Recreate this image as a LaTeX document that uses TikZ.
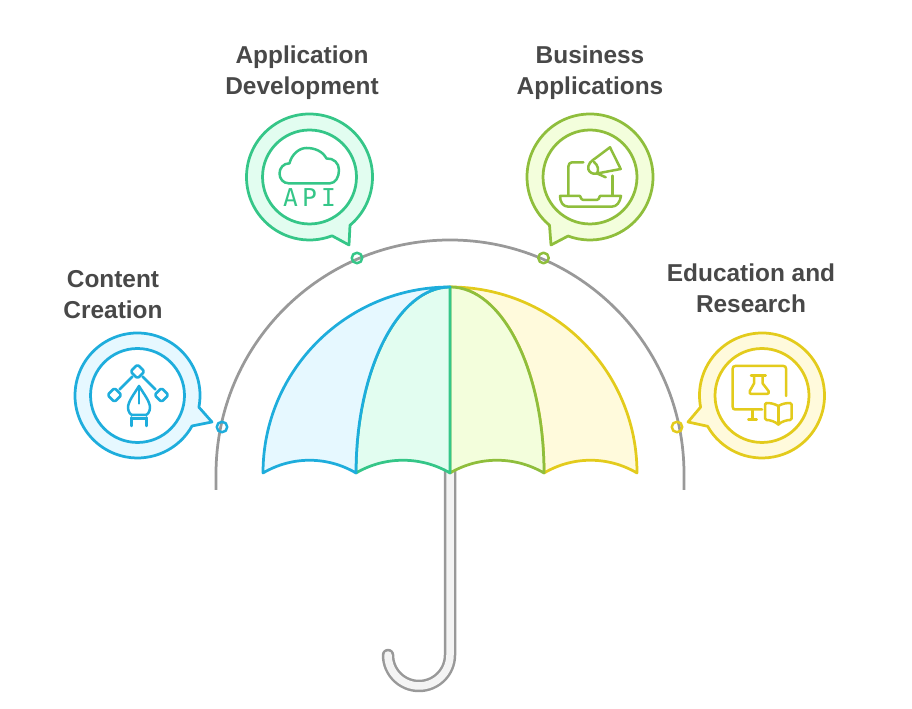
\documentclass[tikz,border=0pt]{standalone}
\usepackage{fontspec}
\setmainfont{Liberation Sans}
\newfontfamily\apifont[LetterSpace=17]{DejaVu Sans Mono}
\usetikzlibrary{positioning}

\definecolor{blueline}{HTML}{1EADDC}
\definecolor{bluefill}{HTML}{E6F8FF}
\definecolor{greenline}{HTML}{35C688}
\definecolor{greenfill}{HTML}{E2FDF0}
\definecolor{limeline}{HTML}{8FBE3C}
\definecolor{limefill}{HTML}{F3FEDC}
\definecolor{yellowline}{HTML}{E3CB1C}
\definecolor{yellowfill}{HTML}{FFFADC}
\definecolor{greyline}{HTML}{999999}
\definecolor{greyfill}{HTML}{F4F4F4}
\definecolor{labeltext}{HTML}{484848}

\begin{document}
\begin{tikzpicture}[
	x = 0.02cm, y = 0.02cm, % one unit is one pixel of the layout
	line join = round,
	panel/.style={line width=0.055cm},
	bubble/.style={line width=0.055cm},
	inner/.style={circle, draw, fill=white, line width=0.055cm, inner sep=0pt, minimum size=1.88cm},
	icon/.style={line width=0.05cm, line cap=round},
	dot/.style={circle, draw, line width=0.05cm, inner sep=0pt, minimum size=0.21cm},
	heading/.style={align=center, text=labeltext, inner sep=0pt, font=\fontsize{13.9}{17.6}\selectfont\bfseries},
	]
	\useasboundingbox (0,0) rectangle (912,709);

	% Handle
	\draw[greyline, line cap=round, line width=0.05cm, double=greyfill, double distance=0.15cm]
		(450,240) -- (450,54) arc[start angle=0, end angle=-180, radius=31];

	% Panels of the canopy, right to left
	\coordinate (apex) at (450,422);
	\draw[panel, draw=yellowline, fill=yellowfill] (apex) .. controls (553,422) and (637,339) .. (637,236)
		.. controls (608,253) and (573,253) .. (544,236) .. controls (544,339) and (502,422) .. cycle;
	\draw[panel, draw=limeline, fill=limefill] (apex) .. controls (502,422) and (544,339) .. (544,236)
		.. controls (515,253) and (479,253) .. (450,236) -- cycle;
	\draw[panel, draw=greenline, fill=greenfill] (apex) -- (450,236)
		.. controls (421,253) and (385,253) .. (356,236) .. controls (356,339) and (398,422) .. cycle;
	\draw[panel, draw=blueline, fill=bluefill] (apex) .. controls (398,422) and (356,339) .. (356,236)
		.. controls (327,253) and (292,253) .. (263,236) .. controls (263,339) and (347,422) .. cycle;

	% Grey arc over the canopy
	\draw[greyline, line width=0.055cm] (216,219) -- (216,235) arc[start angle=180, end angle=0, radius=234] -- (684,219);

	% Bubbles
	\coordinate (creationC) at (137.5,313.5);
	\coordinate (developC) at (309.5,532);
	\coordinate (businessC) at (590,532);
	\coordinate (educationC) at (762,313.5);

	\draw[bubble, draw=blueline, fill=bluefill] ([shift={(-10.8:62.5)}]creationC)
		arc[start angle=-10.8, end angle=330.8, radius=62.5] -- (212,287) -- cycle;
	\draw[bubble, draw=greenline, fill=greenfill] ([shift={(-50:63)}]developC)
		arc[start angle=-50, end angle=291, radius=63] -- (349,464) -- cycle;
	\draw[bubble, draw=limeline, fill=limefill] ([shift={(230:63)}]businessC)
		arc[start angle=230, end angle=-110.4, radius=63] -- (551,464) -- cycle;
	\draw[bubble, draw=yellowline, fill=yellowfill] ([shift={(190.7:62.5)}]educationC)
		arc[start angle=190.7, end angle=-150.5, radius=62.5] -- (688,287) -- cycle;

	% Nodes and their relative positions
	\node[inner, draw=blueline] (creation) at (creationC) {};
	\node[inner, draw=greenline] (develop) at (developC) {};
	\node[inner, draw=limeline] (business) at (businessC) {};
	\node[inner, draw=yellowline] (education) at (educationC) {};

	\node[heading] (creationL) [above = 0.56cm of creation, xshift=-0.49cm] {Content\\Creation};
	\node[heading] (developL) [above = 0.58cm of develop, xshift=-0.15cm] {Application\\Development};
	\node[heading] (businessL) [above = 0.58cm of business] {Business\\Applications};
	\node[heading] (educationL) [above = 0.68cm of education, xshift=-0.22cm] {Education and\\Research};

	% Small rings on the arc
	\node[dot, draw=blueline] (creationD) at (222,282) {};
	\node[dot, draw=greenline] (developD) at (357,451) {};
	\node[dot, draw=limeline] (businessD) at (543.5,451) {};
	\node[dot, draw=yellowline] (educationD) at (677,282) {};

	% Pen tool icon
	\begin{scope}[shift={(creation.center)}, icon, blueline]
		\draw[rounded corners=1pt] (0,31) -- (7,24) -- (0,17) -- (-7,24) -- cycle;
		\draw[rounded corners=1pt] (-23,7.5) -- (-16,0.5) -- (-23,-6.5) -- (-30,0.5) -- cycle;
		\draw[rounded corners=1pt] (24,7.5) -- (31,0.5) -- (24,-6.5) -- (17,0.5) -- cycle;
		\draw (-5,19) -- (-18,6) (5,19) -- (18,6);
		\draw (1.5,9.5) .. controls (-3,2) and (-9.5,-6) .. (-9.5,-12) .. controls (-9.5,-16) and (-7,-19.5) .. (-5,-19.5)
			-- (8,-19.5) .. controls (10,-19.5) and (12.5,-16) .. (12.5,-12) .. controls (12.5,-6) and (6,2) .. cycle;
		\draw (1.5,9.5) -- (1.5,-8);
		\draw (-6,-22) -- (-6,-30.5) (9,-22) -- (9,-30.5) (-6,-23) -- (9,-23);
	\end{scope}

	% Cloud icon
	\begin{scope}[shift={(develop.center)}, icon, greenline]
		\draw (-21,-6.3) -- (20.5,-6.3) .. controls (26,-6.3) and (29.5,0) .. (29.5,7)
			.. controls (29.5,14) and (24,19) .. (17,18.5) .. controls (13,26) and (5,29) .. (-3,29)
			.. controls (-11,29) and (-18,22) .. (-20,13.7) .. controls (-26,13.7) and (-30,9) .. (-30,3.5)
			.. controls (-30,-2) and (-26,-6.3) .. cycle;
		\node[text=greenline, inner sep=0pt, font=\apifont\fontsize{14}{14}\selectfont] (apiL) at (0,-21) {API};
	\end{scope}

	% Laptop and megaphone icon
	\begin{scope}[shift={(business.center)}, icon, limeline]
		\draw (-21.7,-18) -- (-21.7,10.3) .. controls (-21.7,13) and (-20,14.7) .. (-18,14.7) -- (-6.7,14.7);
		\draw (22.7,1.3) -- (22.7,-18);
		\draw (-30,-19) -- (-10,-19) .. controls (-9,-22) and (-8,-23) .. (-6.7,-23) -- (6.7,-23)
			.. controls (8,-23) and (9,-22) .. (10,-19) -- (31,-19) .. controls (30,-25) and (27,-29.7) .. (21.7,-29.7)
			-- (-21.7,-29.7) .. controls (-27,-29.7) and (-30,-25) .. cycle;
		\draw (20,29.7) -- (3,17) .. controls (-2,14) and (-3,8) .. (-0.5,5.5) .. controls (2,3) and (5,3) .. (7,3.5) -- (30.7,8) -- cycle;
		\draw (4,15) .. controls (8,12) and (9,7) .. (7,3.5);
		\draw (6.7,3.7) -- (15.7,-0.3);
	\end{scope}

	% Screen, flask and book icon
	\begin{scope}[shift={(education.center)}, icon, yellowline]
		\draw (24,-0.5) -- (24,27) .. controls (24,28.5) and (23,29.5) .. (21.5,29.5) -- (-26.8,29.5)
			.. controls (-28.3,29.5) and (-29.3,28.5) .. (-29.3,27) -- (-29.3,-11.5)
			.. controls (-29.3,-13) and (-28.3,-14) .. (-26.8,-14) -- (0,-14);
		\draw (-9.3,-14) -- (-9.3,-24) (-13.7,-24) -- (-5.3,-24);
		\draw (-11,19.8) -- (3.7,19.8);
		\draw (-8,19.8) -- (-8,12) -- (-12.2,4.5) .. controls (-13,2.5) and (-12,1.5) .. (-10.5,1.5) -- (4.7,1.5)
			.. controls (6.5,1.5) and (7.5,2.5) .. (6.5,4.5) -- (0.7,12) -- (0.7,19.8);
		\draw (16.3,-10.5) .. controls (12,-8) and (8,-7.5) .. (4.5,-7.5) .. controls (3.5,-7.5) and (3,-8) .. (3,-9) -- (3,-23)
			.. controls (3,-24) and (3.5,-24.5) .. (4.5,-24.5) .. controls (8,-24.5) and (13,-26) .. (16.3,-29)
			.. controls (19.6,-26) and (24.6,-24.5) .. (28.2,-24.5) .. controls (29.2,-24.5) and (29.7,-24) .. (29.7,-23) -- (29.7,-9)
			.. controls (29.7,-8) and (29.2,-7.5) .. (28.2,-7.5) .. controls (24.6,-7.5) and (20.6,-8) .. cycle;
		\draw (16.3,-10.5) -- (16.3,-29);
	\end{scope}
\end{tikzpicture}
\end{document}
